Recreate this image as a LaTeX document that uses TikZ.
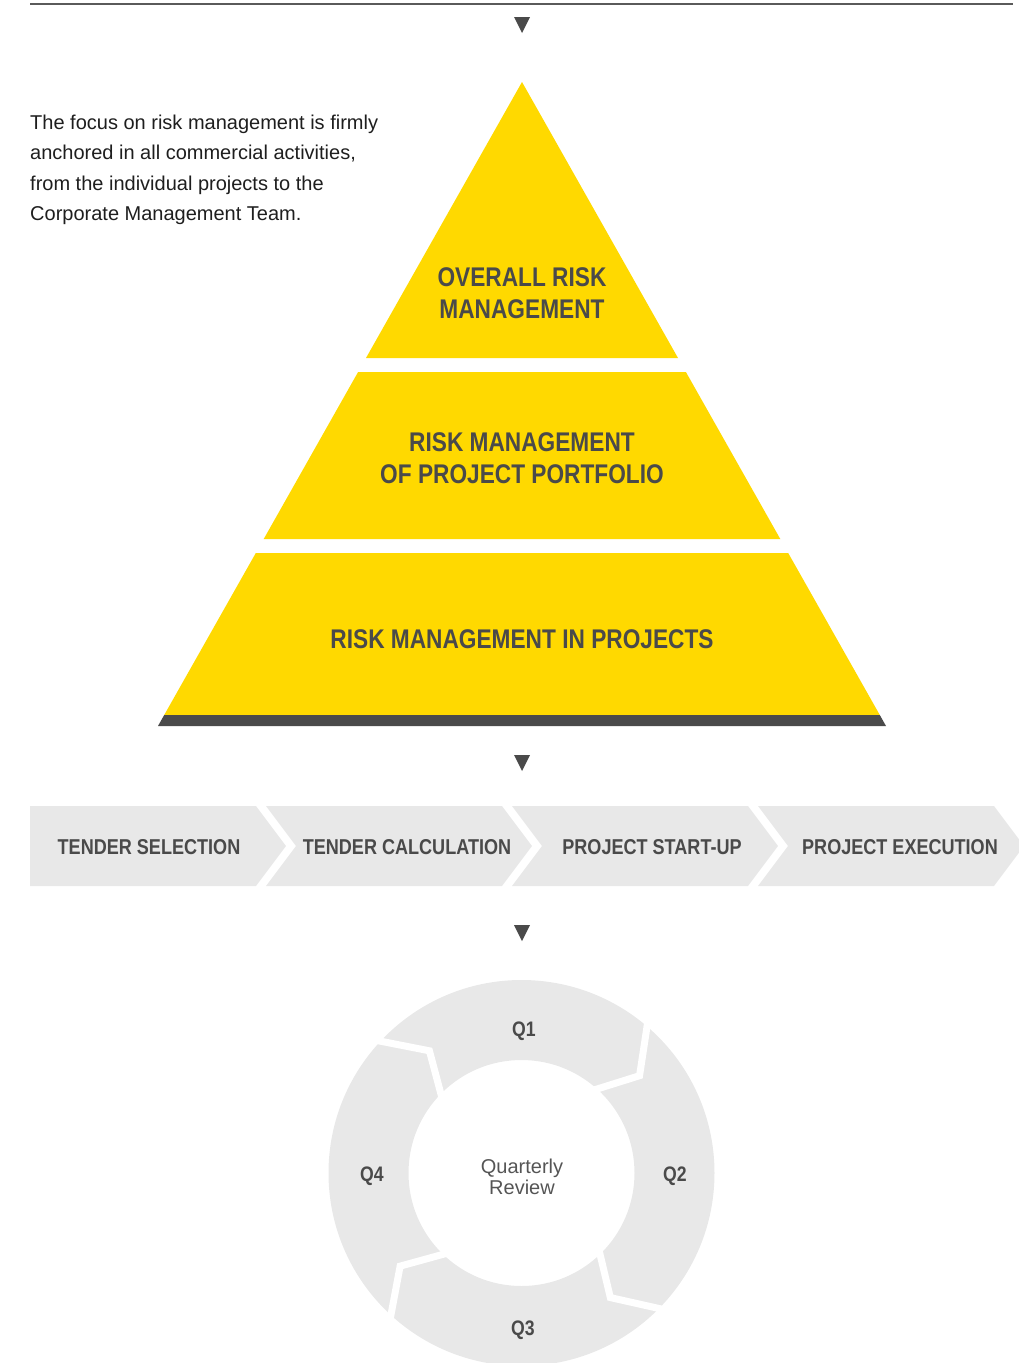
\documentclass[tikz,border=0pt]{standalone}
\usepackage{fontspec}
\setmainfont{Liberation Sans}
\newfontfamily\condbold{Liberation Sans}[FakeStretch=0.84]

\definecolor{pyryellow}{HTML}{FFD900}
\definecolor{inkgray}{HTML}{4A4A4A}
\definecolor{panelgray}{HTML}{E8E8E8}
\definecolor{rulegray}{HTML}{5A5A5A}
\definecolor{bodyink}{HTML}{1E1E1E}
\definecolor{softink}{HTML}{555555}

\tikzset{
  tierlabel/.style={text=inkgray, align=center, inner sep=0pt,
    font=\condbold\bfseries\fontsize{27}{31.5}\selectfont},
  stagelabel/.style={text=inkgray, inner sep=0pt, anchor=base,
    font=\condbold\bfseries\fontsize{21.5}{26}\selectfont},
  quarterlabel/.style={text=inkgray, inner sep=0pt, anchor=base,
    font=\condbold\bfseries\fontsize{21}{25}\selectfont},
  stagebox/.style={fill=panelgray},
  tierbox/.style={fill=pyryellow},
  pics/downtri/.style={code={\fill[inkgray] (-8,0) -- (8,0) -- (0,16) -- cycle;}}
}

\begin{document}
\begin{tikzpicture}[x=1pt, y=-1pt]
\useasboundingbox (0,0) rectangle (1018,1363);

% top rule and flow markers
\coordinate (ruleL) at (30,4);
\coordinate (ruleR) at (1013,4);
\draw[rulegray, line width=1.2pt] (ruleL) -- (ruleR);
\pic at (522,17) {downtri};
\pic at (522,755) {downtri};
\pic at (522,925) {downtri};

% intro paragraph (anchored on the baseline of its last line)
\node[anchor=base west, align=left, inner sep=0pt, text=bodyink,
      font=\fontsize{20}{30.5}\selectfont] (intro) at (30,220.7)
  {The focus on risk management is firmly\\
   anchored in all commercial activities,\\
   from the individual projects to the\\
   Corporate Management Team.};

% pyramid tiers
\fill[tierbox] (522,82) -- (678,358) -- (366,358) -- cycle;
\fill[tierbox] (358.1,372) -- (685.9,372) -- (780.3,539) -- (263.7,539) -- cycle;
\fill[tierbox] (255.8,553) -- (788.2,553) -- (879.8,715) -- (164.2,715) -- cycle;
\fill[inkgray] (164.2,715) -- (879.8,715) -- (886,726) -- (158,726) -- cycle;

\node[tierlabel, anchor=base] (tier1) at (522,318) {OVERALL RISK\\MANAGEMENT};
\node[tierlabel, anchor=base] (tier2) at (522,483) {RISK MANAGEMENT\\OF PROJECT PORTFOLIO};
\node[tierlabel, anchor=base] (tier3) at (522,648) {RISK MANAGEMENT IN PROJECTS};

% process chevrons
\fill[stagebox] (30,806) -- (256,806) -- (286,846) -- (256,886) -- (30,886) -- cycle;
\fill[stagebox] (266,806) -- (502,806) -- (532,846) -- (502,886) -- (266,886) -- (296,846) -- cycle;
\fill[stagebox] (512,806) -- (748,806) -- (778,846) -- (748,886) -- (512,886) -- (542,846) -- cycle;
\fill[stagebox] (758,806) -- (994,806) -- (1024,846) -- (994,886) -- (758,886) -- (788,846) -- cycle;

\node[stagelabel] (s1) at (149,854) {TENDER SELECTION};
\node[stagelabel] (s2) at (407,854) {TENDER CALCULATION};
\node[stagelabel] (s3) at (652,854) {PROJECT START-UP};
\node[stagelabel] (s4) at (900,854) {PROJECT EXECUTION};

% quarterly cycle ring
\begin{scope}[shift={(521.5,1173)}, yscale=-1]
  \fill[panelgray, even odd rule] (0,0) circle (193) (0,0) circle (113);
  \foreach \a in {138.5, 51, -43, -131}
    \draw[white, line width=7pt, line join=miter]
      (\a:104) -- (\a-11.5:153) -- (\a:202);
\end{scope}

\node[quarterlabel] (q1) at (524,1036) {Q1};
\node[quarterlabel] (q2) at (675,1181) {Q2};
\node[quarterlabel] (q3) at (523,1335) {Q3};
\node[quarterlabel] (q4) at (372,1181) {Q4};

\node[anchor=base, align=center, inner sep=0pt, text=softink,
      font=\fontsize{20}{21}\selectfont] (review) at (522,1194)
  {Quarterly\\Review};
\end{tikzpicture}
\end{document}
